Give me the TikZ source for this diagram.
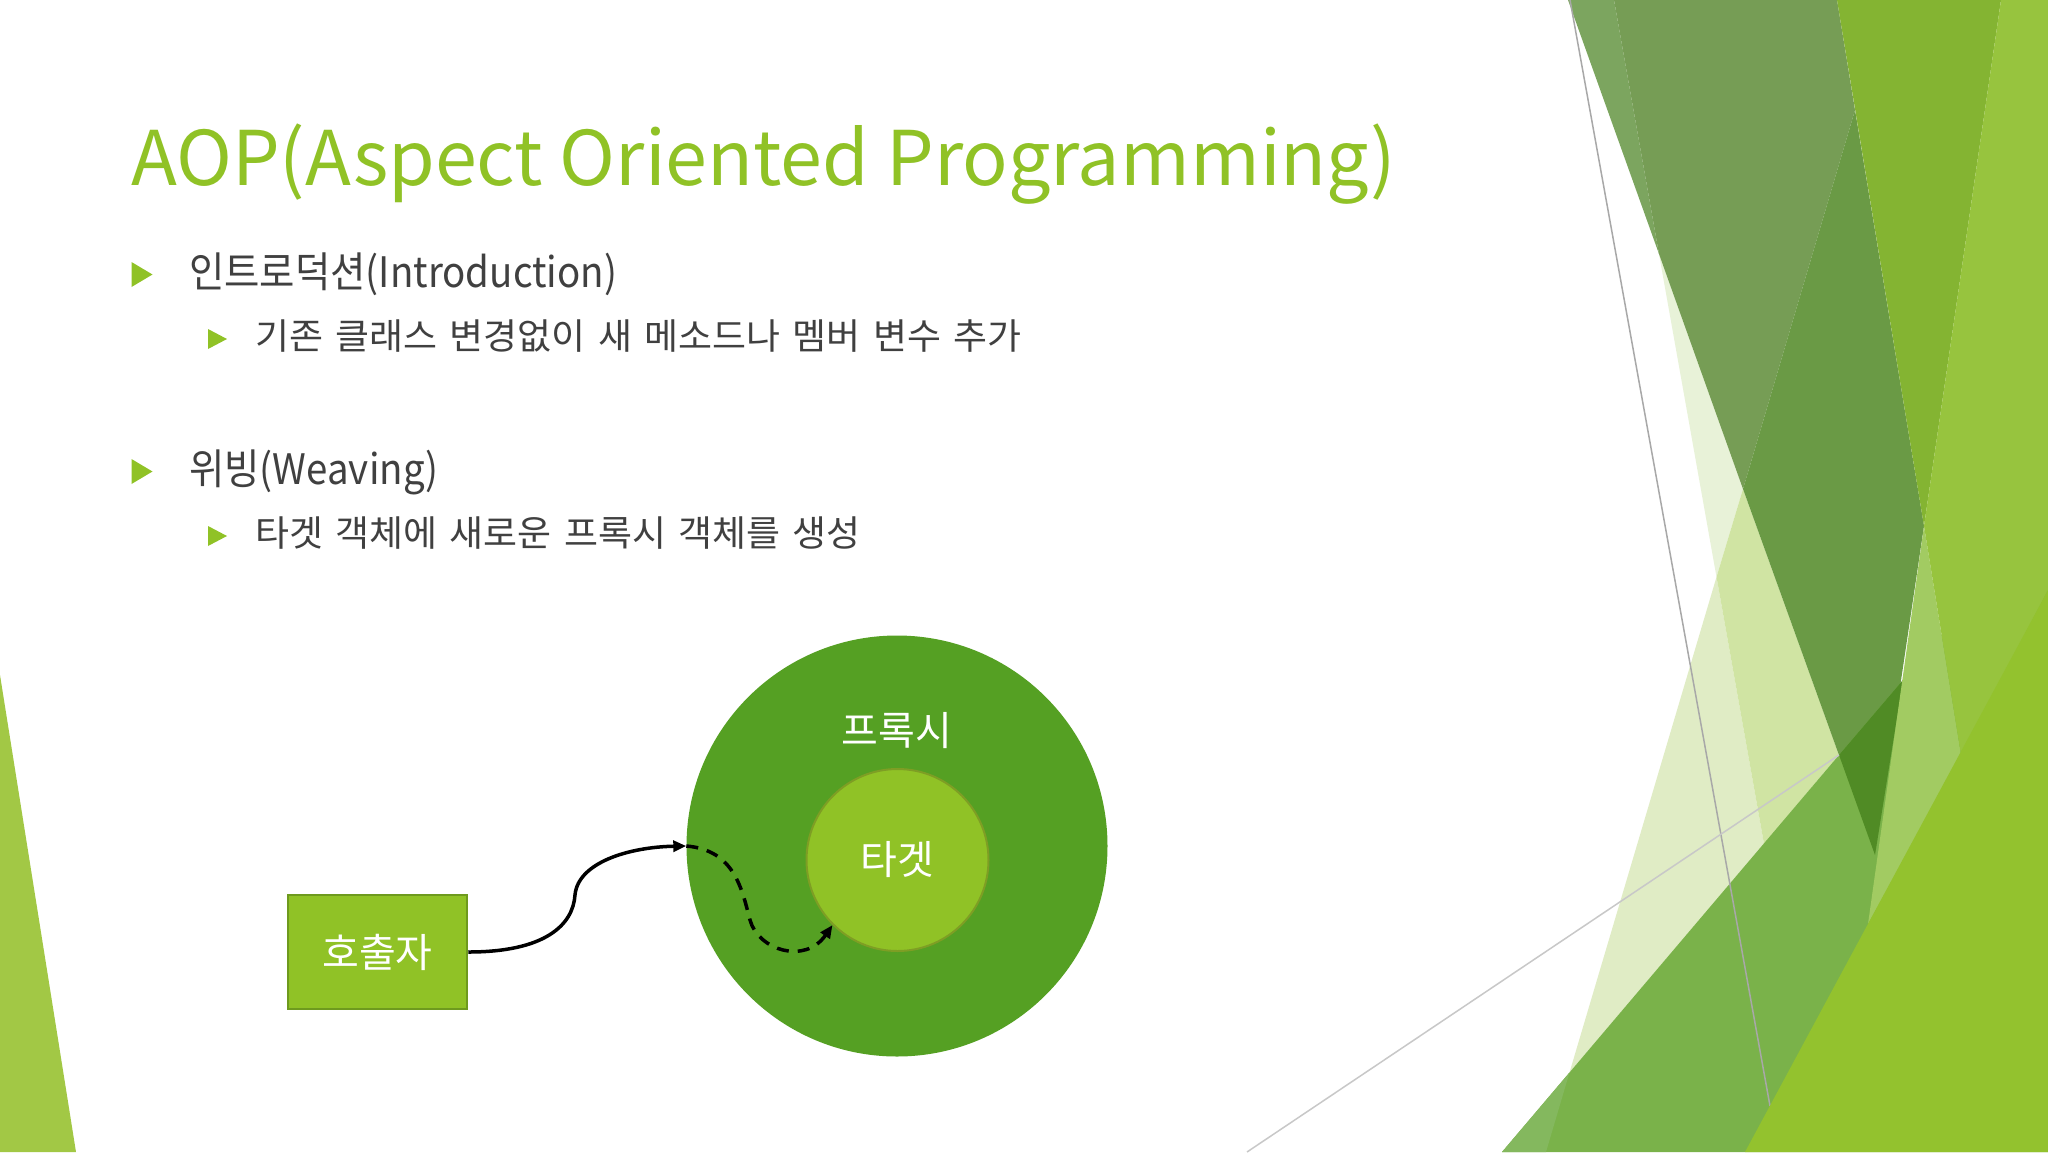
\documentclass[tikz,border=0pt]{standalone}
\usepackage{fontspec}
\setmainfont{Noto Sans CJK KR}
\newfontfamily\bodyfont{Noto Sans CJK KR}[FakeStretch=0.915]
\newfontfamily\subfont{Noto Sans CJK KR}[FakeStretch=1.026, WordSpace=1.5]
\newfontfamily\diagfont{Noto Sans CJK KR}
\usetikzlibrary{arrows.meta}
\definecolor{accent}{HTML}{90C226}
\definecolor{bodytext}{HTML}{404040}
\definecolor{proxygreen}{HTML}{55A023}
\definecolor{innerborder}{HTML}{7E9E24}
\definecolor{boxborder}{HTML}{6E9A1E}
\definecolor{grayline}{HTML}{A8A8A8}
\definecolor{graylinetwo}{HTML}{C8C8C8}
\tikzset{
  titlestyle/.style={text=accent, inner sep=0pt, font=\fontsize{75.4}{80}\selectfont},
  lvlone/.style={text=bodytext, inner sep=0pt, font=\bodyfont\fontsize{42}{50}\selectfont},
  lvltwo/.style={text=bodytext, inner sep=0pt, font=\subfont\fontsize{36}{44}\selectfont},
  difflabel/.style={text=white, font=\diagfont\fontsize{40}{48}\selectfont},
  conn/.style={line width=3.5pt, -{Triangle[length=13pt,width=11pt]}},
  dashconn/.style={conn, dash pattern=on 12pt off 9pt},
}
\begin{document}
\begin{tikzpicture}[x=1pt,y=-1pt]
\useasboundingbox (0,0) rectangle (2048,1152);
\fill[white] (0,0) rectangle (2048,1152);

% ---- right decoration ----
\fill[fill={rgb,255:red,224;green,236;blue,197}] (1716.5,577) -- (1764,844) -- (1569.5,1072.5) -- cycle;
\fill[fill={rgb,255:red,232;green,242;blue,216}] (1659,254) -- (1743,489) -- (1716.5,577) -- cycle;
\fill[fill={rgb,255:red,208;green,228;blue,163}] (1716.5,577) -- (1743,489) -- (1839,755) -- (1764,844) -- cycle;
\fill[fill={rgb,255:red,124;green,165;blue,95}] (1568,0) -- (1614,0) -- (1659,254) -- cycle;
\fill[fill={rgb,255:red,118;green,157;blue,85}] (1614,0) -- (1837,0) -- (1855,110) -- (1743,489) -- (1659,254) -- cycle;
\fill[fill={rgb,255:red,106;green,154;blue,69}] (1855,110) -- (1924,526) -- (1875,855) -- (1743,489) -- cycle;
\fill[fill={rgb,255:red,132;green,180;blue,50}] (1837,0) -- (2001,0) -- (1924,526) -- cycle;
\fill[fill={rgb,255:red,122;green,178;blue,74}] (1502,1152) -- (1839,755) -- (1903,680) -- (2048,509) -- (2048,1152) -- cycle;
\fill[fill={rgb,255:red,132;green,184;blue,94}] (1502,1152) -- (1569.5,1072.5) -- (1546,1152) -- cycle;
\fill[fill={rgb,255:red,80;green,139;blue,37}] (1839,755) -- (1903,680) -- (1875,855) -- cycle;
\draw[grayline, line width=1.5pt] (1570,0) -- (1770,1106);
\draw[graylinetwo, line width=1.5pt] (1247,1152) -- (1839,755);
\fill[fill={rgb,255:red,162;green,203;blue,98}] (1924,526) -- (1961,755) -- (1868,924) -- cycle;
\fill[fill={rgb,255:red,151;green,196;blue,62}] (2001,0) -- (2048,0) -- (2048,590) -- (1961,755) -- (1924,526) -- cycle;
\fill[fill={rgb,255:red,147;green,194;blue,46}] (1745,1152) -- (2048,590) -- (2048,1152) -- cycle;

% ---- left decoration ----
\fill[fill={rgb,255:red,162;green,200;blue,69}] (0,675) -- (76,1152) -- (0,1152) -- cycle;

% ---- title and bullets ----
\node[titlestyle, anchor=base west] (title) at (131,185) {AOP(Aspect Oriented Programming)};

\fill[accent] (131.5,262) -- (152.5,274.5) -- (131.5,287) -- cycle;
\node[lvlone, anchor=base west] (intro) at (189,287) {인트로덕션(Introduction)};
\fill[accent] (208,329) -- (227,339) -- (208,349) -- cycle;
\node[lvltwo, anchor=base west] (introdesc) at (255,349) {기존 클래스 변경없이 새 메소드나 멤버 변수 추가};

\fill[accent] (131.5,459) -- (152.5,471.5) -- (131.5,484) -- cycle;
\node[lvlone, anchor=base west] (weave) at (189,484) {위빙(Weaving)};
\fill[accent] (208,526) -- (227,536) -- (208,546) -- cycle;
\node[lvltwo, anchor=base west] (weavedesc) at (255,546) {타겟 객체에 새로운 프록시 객체를 생성};

% ---- diagram ----
\node[circle, fill=proxygreen, minimum size=421pt, inner sep=0pt] (proxy) at (897,846) {};
\node[difflabel] (proxylabel) at (897,731) {프록시};
\node[circle, fill=accent, draw=innerborder, line width=2pt, minimum size=182pt, inner sep=0pt, difflabel] (target) at (897.5,860) {타겟};
\node[rectangle, fill=accent, draw=boxborder, line width=2.5pt, minimum width=179pt, minimum height=114pt, difflabel] (caller) at (377.5,952) {호출자};

\draw[conn] (caller.east) .. controls (545,952) and (573,925) .. (575,895) .. controls (578,862) and (630,847) .. (proxy.west);
\draw[dashconn] (proxy.west) .. controls (735,850) and (742,890) .. (750,920) .. controls (758,950) and (805,965) .. (target.225);
\end{tikzpicture}
\end{document}
